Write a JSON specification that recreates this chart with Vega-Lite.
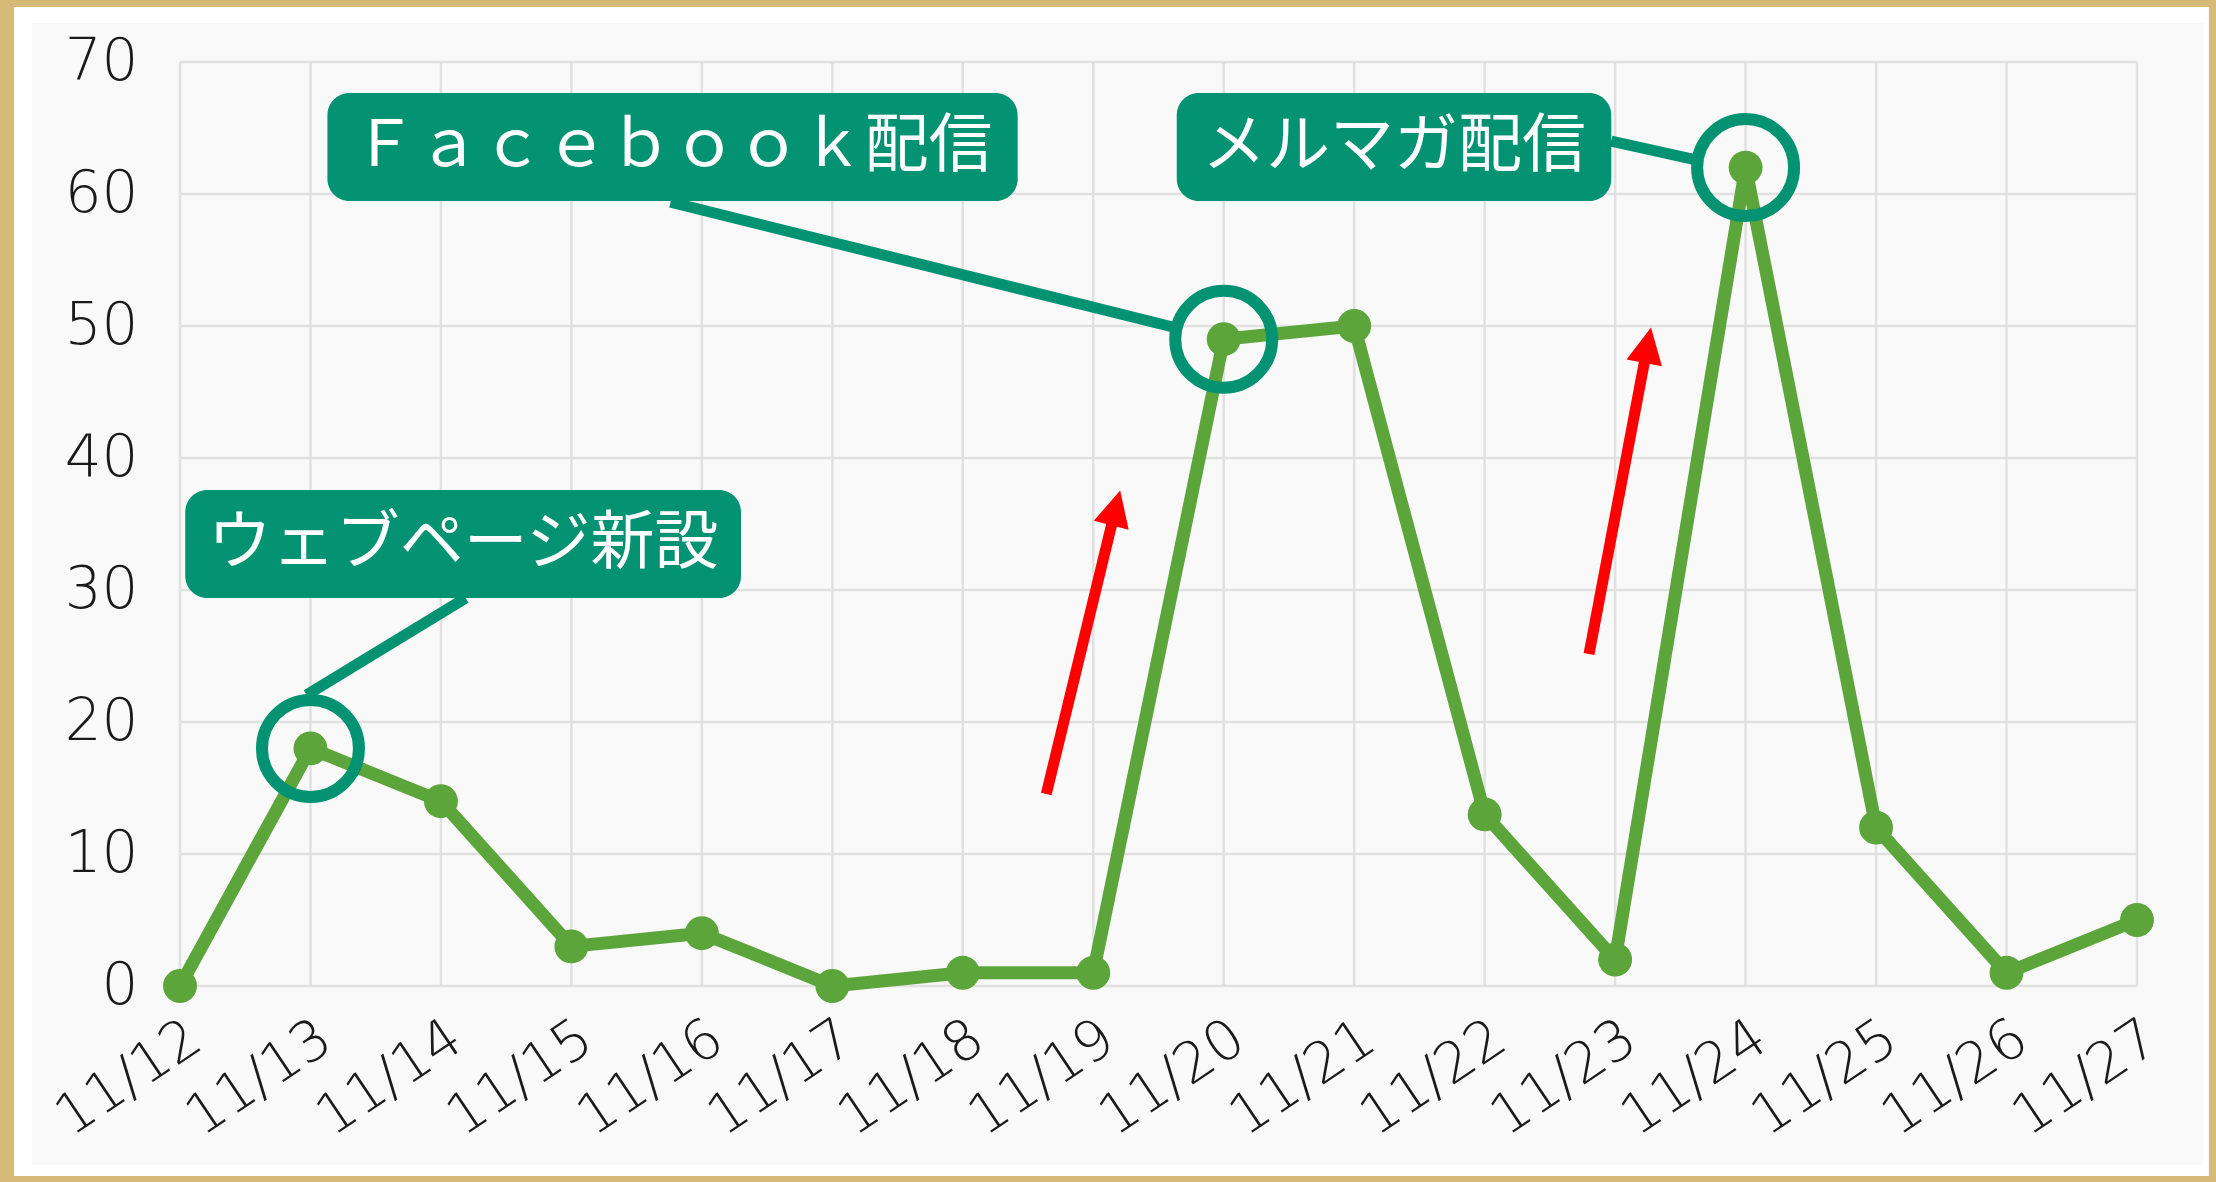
{
  "$schema": "https://vega.github.io/schema/vega-lite/v6.json",
  "width": 1957,
  "height": 924,
  "autosize": {"type": "none"},
  "padding": {"left": 180, "top": 62, "right": 79, "bottom": 196},
  "background": "#d6bb78",
  "config": {"view": {"stroke": null}},
  "layer": [
    {
      "data": {"values": [{"x": 10.728, "x2": 27.551, "y": 74.17, "y2": -14.39}]},
      "mark": {"type": "rect", "color": "#ffffff", "clip": false},
      "encoding": {
        "x": {"field": "x", "type": "quantitative",
          "scale": {"domain": [12, 27], "nice": false, "zero": false},
          "axis": {"title": null, "grid": false, "domain": false, "ticks": false, "values": [12,13,14,15,16,17,18,19,20,21,22,23,24,25,26,27],
            "labelExpr": "'11/' + datum.value", "labelAngle": -34, "labelFontSize": 56, "labelFont": "DejaVu Sans", "labelFontWeight": 200,
            "labelColor": "#1a1a1a", "labelPadding": 24, "zindex": 1, "labelOverlap": false, "labelFlush": false}},
        "x2": {"field": "x2"},
        "y": {"field": "y", "type": "quantitative",
          "scale": {"domain": [0, 70], "nice": false, "zero": true},
          "axis": {"title": null, "grid": false, "domain": false, "ticks": false, "values": [0,10,20,30,40,50,60,70],
            "labelFontSize": 58, "labelFont": "DejaVu Sans", "labelFontWeight": 200, "labelColor": "#1a1a1a", "labelPadding": 42, "zindex": 1}},
        "y2": {"field": "y2"}
      }
    },
    {
      "data": {"values": [{"x": 10.866, "x2": 27.505, "y": 72.95, "y2": -13.56}]},
      "mark": {"type": "rect", "color": "#f9f9f9", "clip": false},
      "encoding": {
        "x": {"field": "x", "type": "quantitative"},
        "x2": {"field": "x2"},
        "y": {"field": "y", "type": "quantitative"},
        "y2": {"field": "y2"}
      }
    },
    {
      "data": {"values": [{"d": 12},{"d": 13},{"d": 14},{"d": 15},{"d": 16},{"d": 17},{"d": 18},{"d": 19},{"d": 20},{"d": 21},{"d": 22},{"d": 23},{"d": 24},{"d": 25},{"d": 26},{"d": 27}]},
      "mark": {"type": "rule", "color": "#e1e1e1", "strokeWidth": 2.5},
      "encoding": {"x": {"field": "d", "type": "quantitative"}}
    },
    {
      "data": {"values": [{"v": 0},{"v": 10},{"v": 20},{"v": 30},{"v": 40},{"v": 50},{"v": 60},{"v": 70}]},
      "mark": {"type": "rule", "color": "#e1e1e1", "strokeWidth": 2.5},
      "encoding": {"y": {"field": "v", "type": "quantitative"}}
    },
    {
      "data": {"name": "series", "values": [
        {"d": 12, "v": 0}, {"d": 13, "v": 18}, {"d": 14, "v": 14}, {"d": 15, "v": 3},
        {"d": 16, "v": 4}, {"d": 17, "v": 0}, {"d": 18, "v": 1}, {"d": 19, "v": 1},
        {"d": 20, "v": 49}, {"d": 21, "v": 50}, {"d": 22, "v": 13}, {"d": 23, "v": 2},
        {"d": 24, "v": 62}, {"d": 25, "v": 12}, {"d": 26, "v": 1}, {"d": 27, "v": 5}
      ]},
      "layer": [
        {
          "mark": {"type": "line", "color": "#5ba53b", "strokeWidth": 13, "strokeJoin": "round"},
          "encoding": {"x": {"field": "d", "type": "quantitative"}, "y": {"field": "v", "type": "quantitative"}}
        },
        {
          "mark": {"type": "point", "shape": "circle", "filled": true, "color": "#5ba53b", "opacity": 1, "size": 1150},
          "encoding": {"x": {"field": "d", "type": "quantitative"}, "y": {"field": "v", "type": "quantitative"}}
        }
      ]
    },
    {
      "data": {"values": [
        {"x": 15.76, "y": 59.39, "x2": 19.64, "y2": 49.85},
        {"x": 22.97, "y": 64.0, "x2": 23.62, "y2": 62.58},
        {"x": 14.19, "y": 29.39, "x2": 12.97, "y2": 22.05}
      ]},
      "mark": {"type": "rule", "color": "#039372", "strokeWidth": 11},
      "encoding": {
        "x": {"field": "x", "type": "quantitative"}, "y": {"field": "y", "type": "quantitative"},
        "x2": {"field": "x2"}, "y2": {"field": "y2"}
      }
    },
    {
      "data": {"values": [{"d": 13, "v": 18}, {"d": 20, "v": 49}, {"d": 24, "v": 62}]},
      "mark": {"type": "point", "shape": "circle", "filled": false, "color": "#039372", "strokeWidth": 12, "opacity": 1, "size": 9400},
      "encoding": {"x": {"field": "d", "type": "quantitative"}, "y": {"field": "v", "type": "quantitative"}}
    },
    {
      "data": {"name": "boxes", "values": [
        {"x": 13.13, "x2": 18.42, "y": 67.65, "y2": 59.47, "label": "Ｆａｃｅｂｏｏｋ配信"},
        {"x": 19.64, "x2": 22.97, "y": 67.65, "y2": 59.47, "label": "メルマガ配信"},
        {"x": 12.04, "x2": 16.30, "y": 37.58, "y2": 29.39, "label": "ウェブページ新設"}
      ]},
      "layer": [
        {
          "mark": {"type": "rect", "color": "#000000", "opacity": 0.22, "cornerRadius": 22, "xOffset": 3, "yOffset": 6},
          "encoding": {
            "x": {"field": "x", "type": "quantitative"}, "x2": {"field": "x2"},
            "y": {"field": "y", "type": "quantitative"}, "y2": {"field": "y2"}
          }
        },
        {
          "mark": {"type": "rect", "color": "#039372", "cornerRadius": 22},
          "encoding": {
            "x": {"field": "x", "type": "quantitative"}, "x2": {"field": "x2"},
            "y": {"field": "y", "type": "quantitative"}, "y2": {"field": "y2"}
          }
        },
        {
          "transform": [
            {"calculate": "(datum.x + datum.x2) / 2", "as": "cx"},
            {"calculate": "(datum.y + datum.y2) / 2", "as": "cy"}
          ],
          "mark": {"type": "text", "color": "#ffffff", "fontSize": 64, "font": "Noto Sans CJK JP", "fontWeight": 400, "align": "center", "baseline": "middle"},
          "encoding": {
            "x": {"field": "cx", "type": "quantitative"},
            "y": {"field": "cy", "type": "quantitative"},
            "text": {"field": "label"}
          }
        }
      ]
    },
    {
      "data": {"values": [
        {"x": 18.64, "y": 14.55, "x2": 19.172, "y2": 36.22},
        {"x": 22.80, "y": 25.15, "x2": 23.249, "y2": 48.55}
      ]},
      "mark": {"type": "rule", "color": "#ff0000", "strokeWidth": 11},
      "encoding": {
        "x": {"field": "x", "type": "quantitative"}, "y": {"field": "y", "type": "quantitative"},
        "x2": {"field": "x2"}, "y2": {"field": "y2"}
      }
    },
    {
      "data": {"values": [{"x": 19.172, "y": 36.22}]},
      "mark": {"type": "point", "shape": "M0,-1L1,1L-1,1Z", "filled": true, "color": "#ff0000", "opacity": 1, "size": 1300, "angle": 14.4},
      "encoding": {"x": {"field": "x", "type": "quantitative"}, "y": {"field": "y", "type": "quantitative"}}
    },
    {
      "data": {"values": [{"x": 23.249, "y": 48.55}]},
      "mark": {"type": "point", "shape": "M0,-1L1,1L-1,1Z", "filled": true, "color": "#ff0000", "opacity": 1, "size": 1300, "angle": 10.8},
      "encoding": {"x": {"field": "x", "type": "quantitative"}, "y": {"field": "y", "type": "quantitative"}}
    }
  ]
}
